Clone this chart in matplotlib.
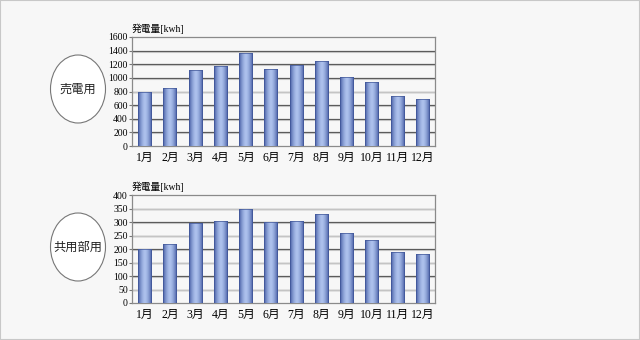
import numpy as np
import matplotlib
matplotlib.use('Agg')
import matplotlib.pyplot as plt
from matplotlib.patches import Ellipse, Rectangle

plt.rcParams['font.family'] = ['Liberation Serif', 'Noto Sans CJK JP']

months = ['1月', '2月', '3月', '4月', '5月', '6月',
          '7月', '8月', '9月', '10月', '11月', '12月']
sell = [790, 850, 1120, 1175, 1360, 1125, 1195, 1255, 1020, 940, 740, 685]
common = [200, 218, 296, 305, 348, 300, 304, 328, 258, 235, 190, 182]
sell_ticks = list(range(0, 1601, 200))
common_ticks = list(range(0, 401, 50))
unit = '発電量[kwh]'

fig = plt.figure(figsize=(6.4, 3.4), dpi=100)
fig.patch.set_facecolor('#f7f7f7')
fig.patches.append(Rectangle((0, 0), 1, 1, transform=fig.transFigure,
                             fill=False, edgecolor='#c8c8c8', lw=1.5))

# horizontal gradient for the bars, dark edges and light middle
g = np.linspace(-1, 1, 64)
shade = 1 - np.abs(g) ** 1.6
dark = np.array([0.27, 0.36, 0.64])
light = np.array([0.68, 0.76, 0.93])
grad = dark[None, :] + (light - dark)[None, :] * shade[:, None]
grad = grad[None, :, :]


def panel(rect, vals, ticks, label, ell_y):
    ax = fig.add_axes(rect)
    ax.set_facecolor('none')
    x = np.arange(len(vals))
    bars = ax.bar(x, vals, width=0.52, color='none', edgecolor='#3f5596', lw=0.5, zorder=4)
    for b in bars:
        im = ax.imshow(grad, extent=[b.get_x(), b.get_x() + b.get_width(), 0, b.get_height()],
                       aspect='auto', zorder=3)
        im.set_clip_path(b)
    ax.set_xlim(-0.5, len(vals) - 0.5)
    ax.set_ylim(0, ticks[-1])
    ax.set_yticks(ticks)
    ax.set_xticks(x)
    ax.set_xticklabels(months, fontsize=8.5)
    ax.tick_params(axis='y', labelsize=7, length=2, pad=1, color='#777')
    ax.tick_params(axis='x', length=0, pad=4)
    for t in ticks[1:-1]:
        ax.axhline(t, color='#555555', lw=0.9, zorder=1)
        ax.axhline(t - ticks[-1] * 0.009, color='#c4c4c4', lw=0.8, zorder=1)
    for s in ax.spines.values():
        s.set_color('#8a8a8a')
        s.set_linewidth(0.9)
    ax.text(0, 1.03, unit, transform=ax.transAxes, fontsize=7, va='bottom', ha='left')
    fig.patches.append(Ellipse((78 / 640, ell_y), 55 / 640, 68 / 340, transform=fig.transFigure,
                               facecolor='white', edgecolor='#777777', lw=0.8))
    fig.text(78 / 640, ell_y, label, fontsize=8.8, ha='center', va='center',
             family=['Noto Sans CJK JP'], color='#222222')
    return ax


panel([132 / 640, 1 - 146 / 340, 303 / 640, 109 / 340], sell, sell_ticks, '売電用', 1 - 89 / 340)
panel([132 / 640, 1 - 303 / 340, 303 / 640, 108 / 340], common, common_ticks, '共用部用', 1 - 247 / 340)

fig.savefig('out.png', dpi=100, facecolor=fig.get_facecolor())
